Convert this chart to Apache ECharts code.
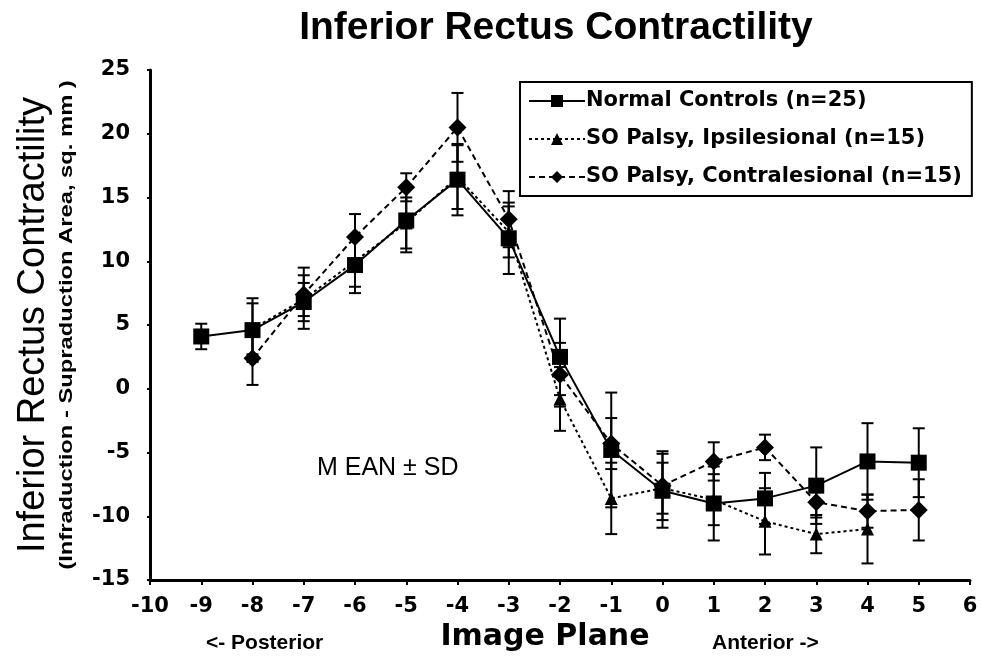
<!DOCTYPE html>
<html>
<head>
<meta charset="utf-8">
<script src="https://cdn.jsdelivr.net/npm/echarts@6/dist/echarts.min.js"></script>
<style>
  html, body { margin: 0; padding: 0; background: #fff; }
  #chart { width: 982px; height: 662px; }
</style>
</head>
<body>
<div id="chart"></div>
<script>
// image planes
const planesNormal = [-9, -8, -7, -6, -5, -4, -3, -2, -1, 0, 1, 2, 3, 4, 5];
const planesIpsi = [-8, -7, -6, -5, -4, -3, -2, -1, 0, 1, 2, 3, 4];
const planesContra = [-8, -7, -6, -5, -4, -3, -2, -1, 0, 1, 2, 3, 4, 5];

// means
const normalMean = [4.1, 4.6, 6.8, 9.7, 13.2, 16.4, 11.8, 2.5, -4.8, -8.0, -9.0, -8.6, -7.6, -5.7, -5.8];
const ipsiMean = [4.7, 7.0, 10.0, 13.0, 16.6, 12.3, -0.8, -8.6, -7.8, -8.7, -10.4, -11.4, -11.0];
const contraMean = [2.4, 7.4, 11.9, 15.8, 20.5, 13.3, 1.1, -4.3, -7.6, -5.7, -4.6, -8.9, -9.6, -9.5];

// standard deviations
const normalSD = [1.0, 2.5, 2.1, 2.2, 2.5, 2.8, 2.8, 3.0, 4.5, 2.9, 2.9, 2.0, 3.0, 3.0, 2.7];
const ipsiSD = [2.0, 1.3, 2.0, 2.0, 2.5, 2.0, 2.5, 2.8, 2.0, 2.0, 2.6, 1.5, 2.7];
const contraSD = [2.1, 2.1, 1.8, 1.1, 2.7, 2.2, 2.5, 2.0, 2.7, 1.5, 1.0, 1.2, 1.3, 2.4];

const yTicks = [-15, -10, -5, 0, 5, 10, 15, 20, 25];

const arial = 'Arial, "Liberation Sans", sans-serif';
const wide = '"DejaVu Sans", sans-serif';

const zip = (xs, ys) => xs.map((x, i) => [x, ys[i]]);
const zip3 = (xs, ys, es) => xs.map((x, i) => [x, ys[i], es[i]]);

function errorBars(params, api) {
  const x = api.value(0), y = api.value(1), e = api.value(2);
  const top = api.coord([x, y + e]);
  const bot = api.coord([x, y - e]);
  const w = 6;
  const style = { stroke: '#000', lineWidth: 2 };
  return {
    type: 'group',
    children: [
      { type: 'line', shape: { x1: top[0], y1: top[1], x2: bot[0], y2: bot[1] }, style },
      { type: 'line', shape: { x1: top[0] - w, y1: top[1], x2: top[0] + w, y2: top[1] }, style },
      { type: 'line', shape: { x1: bot[0] - w, y1: bot[1], x2: bot[0] + w, y2: bot[1] }, style }
    ]
  };
}

const chart = echarts.init(document.getElementById('chart'));

chart.setOption({
  animation: false,
  title: {
    text: 'Inferior Rectus Contractility',
    left: 551,
    textAlign: 'center',
    top: 4,
    textStyle: { fontFamily: arial, fontSize: 39, fontWeight: 'bold', color: '#000' }
  },
  grid: { left: 150, right: 12, top: 70, bottom: 82 },
  legend: {
    orient: 'vertical',
    left: 520,
    top: 82,
    padding: [7, 10, 7, 8],
    itemGap: 14,
    itemWidth: 56,
    itemHeight: 15,
    borderColor: '#000',
    borderWidth: 2,
    backgroundColor: '#fff',
    textStyle: { fontFamily: wide, fontSize: 21, fontWeight: 'bold', color: '#000', lineHeight: 24, padding: [0, 0, 0, -4] },
    data: ['Normal Controls (n=25)', 'SO Palsy, Ipsilesional (n=15)', 'SO Palsy, Contralesional (n=15)']
  },
  xAxis: {
    type: 'value',
    min: -10,
    max: 6,
    interval: 1,
    splitLine: { show: false },
    axisLine: { onZero: false, lineStyle: { color: '#000', width: 3 } },
    axisTick: { length: 5, lineStyle: { color: '#000', width: 2 } },
    axisLabel: { fontFamily: wide, fontSize: 21, fontWeight: 'bold', color: '#000', margin: 16 }
  },
  yAxis: {
    type: 'value',
    min: yTicks[0],
    max: yTicks[yTicks.length - 1],
    interval: 5,
    splitLine: { show: false },
    axisLine: { show: true, onZero: false, lineStyle: { color: '#000', width: 3 } },
    axisTick: { show: true, length: 3, lineStyle: { color: '#000', width: 2 } },
    axisLabel: { fontFamily: wide, fontSize: 21, fontWeight: 'bold', color: '#000', margin: 20 }
  },
  graphic: [
    {
      type: 'text', rotation: Math.PI / 2, x: 34, y: 325,
      style: { text: 'Inferior Rectus Contractility', fontFamily: arial, fontSize: 38, fill: '#000', align: 'center', verticalAlign: 'middle' }
    },
    {
      type: 'text', rotation: Math.PI / 2, x: 67, y: 325, scaleX: 1.25,
      style: { text: '(Infraduction - Supraduction Area, sq. mm )', fontFamily: arial, fontSize: 19, fontWeight: 'bold', fill: '#000', align: 'center', verticalAlign: 'middle' }
    },
    {
      type: 'text', x: 545, y: 637,
      style: { text: 'Image Plane', fontFamily: wide, fontSize: 30, fontWeight: 'bold', fill: '#000', align: 'center', verticalAlign: 'middle' }
    },
    {
      type: 'text', x: 206, y: 643,
      style: { text: '<- Posterior', fontFamily: arial, fontSize: 21, fontWeight: 'bold', fill: '#000', align: 'left', verticalAlign: 'middle' }
    },
    {
      type: 'text', x: 712, y: 643,
      style: { text: 'Anterior ->', fontFamily: arial, fontSize: 21, fontWeight: 'bold', fill: '#000', align: 'left', verticalAlign: 'middle' }
    },
    {
      type: 'text', x: 317, y: 468,
      style: { text: 'M EAN ± SD', fontFamily: arial, fontSize: 25, fill: '#000', align: 'left', verticalAlign: 'middle' }
    }
  ],
  series: [
    {
      name: 'Normal Controls (n=25)',
      type: 'line',
      data: zip(planesNormal, normalMean),
      symbol: 'rect',
      symbolSize: 16,
      itemStyle: { color: '#000' },
      lineStyle: { color: '#000', width: 2, type: 'solid' },
      z: 5
    },
    {
      name: 'SO Palsy, Ipsilesional (n=15)',
      type: 'line',
      data: zip(planesIpsi, ipsiMean),
      symbol: 'triangle',
      symbolSize: 13,
      itemStyle: { color: '#000' },
      lineStyle: { color: '#000', width: 2, type: [3, 3] },
      z: 4
    },
    {
      name: 'SO Palsy, Contralesional (n=15)',
      type: 'line',
      data: zip(planesContra, contraMean),
      symbol: 'diamond',
      symbolSize: 18,
      itemStyle: { color: '#000' },
      lineStyle: { color: '#000', width: 2, type: [6, 4] },
      z: 4
    },
    {
      type: 'custom',
      renderItem: errorBars,
      data: zip3(planesNormal, normalMean, normalSD),
      encode: { x: 0, y: 1 },
      z: 3
    },
    {
      type: 'custom',
      renderItem: errorBars,
      data: zip3(planesIpsi, ipsiMean, ipsiSD),
      encode: { x: 0, y: 1 },
      z: 3
    },
    {
      type: 'custom',
      renderItem: errorBars,
      data: zip3(planesContra, contraMean, contraSD),
      encode: { x: 0, y: 1 },
      z: 3
    }
  ]
});
</script>
</body>
</html>
